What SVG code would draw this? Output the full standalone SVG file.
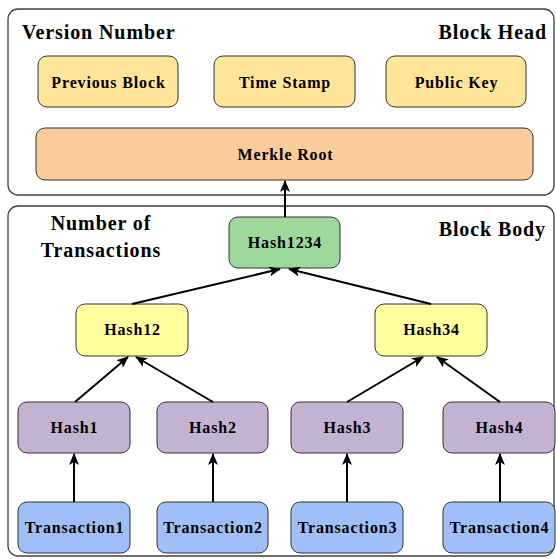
<svg xmlns="http://www.w3.org/2000/svg" width="556" height="559" viewBox="0 0 556 559">
<defs>
<style>
.frame{fill:#fff;stroke:#404040;stroke-width:1.3}
.n{stroke:#333;stroke-width:1}
.t{font-family:"Liberation Serif","Times New Roman",serif;font-weight:bold;font-size:16px;letter-spacing:0.85px;fill:#000;text-anchor:middle}
.h{font-family:"Liberation Serif","Times New Roman",serif;font-weight:bold;font-size:20px;letter-spacing:0.9px;fill:#000}
.c{stroke:#000;stroke-width:2;fill:none;marker-end:url(#ah)}
.y1{fill:#FFE599}.or{fill:#FACC9A}.gr{fill:#9ED89D}.ye{fill:#FFFF9E}.pu{fill:#C4B2D1}.bl{fill:#A0BEF7}
</style>
<marker id="ah" viewBox="0 0 12 10" refX="11" refY="5" markerWidth="12" markerHeight="10" markerUnits="userSpaceOnUse" orient="auto">
<path d="M0,0 L12,5 L0,10 L3,5 z" fill="#000"/>
</marker>
</defs>
<g id="blockHead">
<rect class="frame" x="8" y="9" width="546" height="186" rx="10"/>
<text class="h" x="22" y="39">Version Number</text>
<text class="h" x="547" y="39" text-anchor="end">Block Head</text>
</g>
<g id="blockBody">
<rect class="frame" x="8" y="206" width="546" height="350" rx="10"/>
<text class="h" x="101" y="230" text-anchor="middle">Number of</text>
<text class="h" x="101" y="257" text-anchor="middle">Transactions</text>
<text class="h" x="546" y="236" text-anchor="end">Block Body</text>
</g>
<g id="previousBlock"><rect class="n y1" x="38" y="56" width="140" height="51" rx="9"/><text class="t" x="108.5" y="88">Previous Block</text></g>
<g id="timeStamp"><rect class="n y1" x="214" y="56" width="141" height="51" rx="9"/><text class="t" x="285" y="88">Time Stamp</text></g>
<g id="publicKey"><rect class="n y1" x="386" y="56" width="140" height="51" rx="9"/><text class="t" x="456.5" y="88">Public Key</text></g>
<g id="merkleRoot"><rect class="n or" x="36" y="128" width="497" height="52" rx="9"/><text class="t" x="285.5" y="160">Merkle Root</text></g>
<g id="hash1234"><rect class="n gr" x="229" y="217" width="111" height="51" rx="9"/><text class="t" x="285" y="248">Hash1234</text></g>
<g id="hash12"><rect class="n ye" x="76" y="304" width="112" height="52" rx="9"/><text class="t" x="132.5" y="335">Hash12</text></g>
<g id="hash34"><rect class="n ye" x="375" y="304" width="112" height="52" rx="9"/><text class="t" x="431.5" y="335">Hash34</text></g>
<g id="hash1"><rect class="n pu" x="18" y="402" width="112" height="51" rx="9"/><text class="t" x="74.5" y="433">Hash1</text></g>
<g id="hash2"><rect class="n pu" x="157" y="402" width="111" height="51" rx="9"/><text class="t" x="213" y="433">Hash2</text></g>
<g id="hash3"><rect class="n pu" x="291" y="402" width="112" height="51" rx="9"/><text class="t" x="347.5" y="433">Hash3</text></g>
<g id="hash4"><rect class="n pu" x="443" y="402" width="112" height="51" rx="9"/><text class="t" x="499.5" y="433">Hash4</text></g>
<g id="transaction1"><rect class="n bl" x="18" y="502" width="112" height="51" rx="9"/><text class="t" x="74.5" y="533">Transaction1</text></g>
<g id="transaction2"><rect class="n bl" x="157" y="502" width="111" height="51" rx="9"/><text class="t" x="213" y="533">Transaction2</text></g>
<g id="transaction3"><rect class="n bl" x="291" y="502" width="112" height="51" rx="9"/><text class="t" x="347.5" y="533">Transaction3</text></g>
<g id="transaction4"><rect class="n bl" x="443" y="502" width="112" height="51" rx="9"/><text class="t" x="499.5" y="533">Transaction4</text></g>
<g id="connectors">
<line class="c" x1="285" y1="217" x2="285" y2="181"/>
<line class="c" x1="132" y1="304" x2="280" y2="269"/>
<line class="c" x1="431" y1="304" x2="289" y2="269"/>
<line class="c" x1="75" y1="402" x2="128" y2="357"/>
<line class="c" x1="213" y1="402" x2="136" y2="357"/>
<line class="c" x1="347" y1="402" x2="423" y2="357"/>
<line class="c" x1="500" y1="402" x2="437" y2="357"/>
<line class="c" x1="74" y1="502" x2="74" y2="454"/>
<line class="c" x1="213" y1="502" x2="213" y2="454"/>
<line class="c" x1="347" y1="502" x2="347" y2="454"/>
<line class="c" x1="500" y1="502" x2="500" y2="454"/>
</g>
</svg>
